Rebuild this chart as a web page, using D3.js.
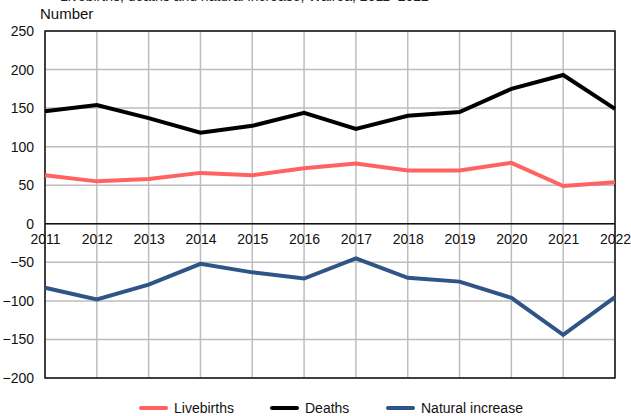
<!DOCTYPE html>
<html>
<head>
<meta charset="utf-8">
<script src="https://cdn.jsdelivr.net/npm/d3@7"></script>
<style>
body { margin: 0; background: #fff; }
text { font-family: "Liberation Sans", Arial, sans-serif; }
</style>
</head>
<body>
<script>
var years = [2011, 2012, 2013, 2014, 2015, 2016, 2017, 2018, 2019, 2020, 2021, 2022];
var livebirths = [63, 55, 58, 66, 63, 72, 78, 69, 69, 79, 49, 54];
var deaths = [146, 154, 137, 118, 127, 144, 123, 140, 145, 175, 193, 149];
var naturalIncrease = [-83, -98, -79, -52, -63, -71, -45, -70, -75, -96, -144, -95];
var yTicks = [-200, -150, -100, -50, 0, 50, 100, 150, 200, 250];

var series = [
	{name: "Livebirths", values: livebirths, color: "#ff6361"},
	{name: "Deaths", values: deaths, color: "#000000"},
	{name: "Natural increase", values: naturalIncrease, color: "#2e5585"}
];

var W = 631, H = 416;
var margin = {top: 31, right: 16, bottom: 38, left: 45},
	width = W - margin.left - margin.right,
	height = H - margin.top - margin.bottom;

var svg = d3.select("body").append("svg")
	.attr("width", W)
	.attr("height", H);

// title, cut off at the top edge as in the original
svg.append("text")
	.attr("x", 60)
	.attr("y", 1)
	.attr("font-size", 14)
	.attr("fill", "#222")
	.text("Livebirths, deaths and natural increase, Wairoa, 2011–2022");

svg.append("text")
	.attr("x", 40)
	.attr("y", 19)
	.attr("font-size", 15)
	.attr("fill", "#111")
	.text("Number");

var g = svg.append("g")
	.attr("transform", "translate(" + margin.left + "," + margin.top + ")");

var x = d3.scaleLinear().domain([2011, 2022]).range([0, width]);
var y = d3.scaleLinear().domain([-200, 250]).range([height, 0]);

// grid
g.append("g")
	.selectAll("line")
	.data(yTicks)
	.enter().append("line")
	.attr("x1", 0).attr("x2", width)
	.attr("y1", function (d) { return y(d); })
	.attr("y2", function (d) { return y(d); })
	.attr("stroke", "#bdbdbd")
	.attr("stroke-width", 1.5);

g.append("g")
	.selectAll("line")
	.data(years)
	.enter().append("line")
	.attr("x1", function (d) { return x(d); })
	.attr("x2", function (d) { return x(d); })
	.attr("y1", 0).attr("y2", height)
	.attr("stroke", "#bdbdbd")
	.attr("stroke-width", 1.5);

// frame
g.append("rect")
	.attr("x", 0).attr("y", 0)
	.attr("width", width).attr("height", height)
	.attr("fill", "none")
	.attr("stroke", "#111")
	.attr("stroke-width", 1.5);

g.append("line")
	.attr("x1", 0).attr("x2", width)
	.attr("y1", y(0)).attr("y2", y(0))
	.attr("stroke", "#111")
	.attr("stroke-width", 1.5);

// y axis labels
var yAxis = g.append("g")
	.call(d3.axisLeft(y).tickValues(yTicks).tickSize(0).tickPadding(11));
yAxis.select(".domain").remove();
yAxis.selectAll("text")
	.attr("font-size", 14)
	.attr("font-family", "Liberation Sans, Arial, sans-serif")
	.attr("fill", "#111");

// x axis labels on zero line
var xAxis = g.append("g")
	.attr("transform", "translate(0," + y(0) + ")")
	.call(d3.axisBottom(x).tickValues(years).tickFormat(d3.format("d")).tickSize(0).tickPadding(10));
xAxis.select(".domain").remove();
xAxis.selectAll("text")
	.attr("font-size", 14)
	.attr("font-family", "Liberation Sans, Arial, sans-serif")
	.attr("fill", "#111");

var line = d3.line()
	.x(function (d, i) { return x(years[i]); })
	.y(function (d) { return y(d); });

series.forEach(function (s) {
	g.append("path")
		.datum(s.values)
		.attr("fill", "none")
		.attr("stroke", s.color)
		.attr("stroke-width", 4)
		.attr("stroke-linejoin", "miter")
		.attr("d", line);
});

// legend
var legendX = [141, 272, 388];
var legend = svg.append("g").attr("transform", "translate(0,408)");
series.forEach(function (s, i) {
	legend.append("line")
		.attr("x1", legendX[i]).attr("x2", legendX[i] + 25)
		.attr("y1", 0).attr("y2", 0)
		.attr("stroke", s.color)
		.attr("stroke-width", 4)
		.attr("stroke-linecap", "round");
	legend.append("text")
		.attr("x", legendX[i] + 33)
		.attr("y", 5)
		.attr("font-size", 14)
		.attr("fill", "#111")
		.text(s.name);
});
</script>
</body>
</html>
